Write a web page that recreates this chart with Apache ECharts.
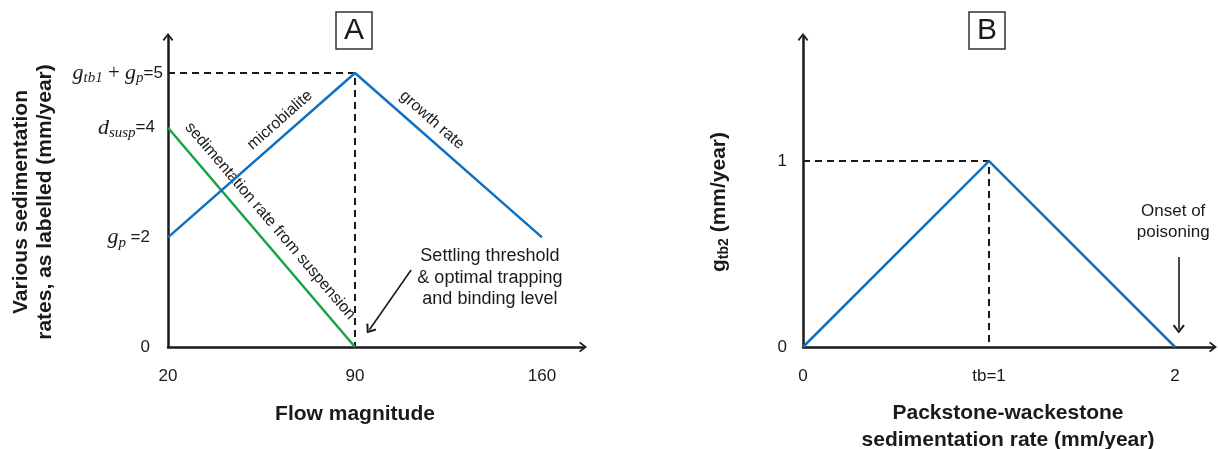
<!DOCTYPE html>
<html>
<head>
<meta charset="utf-8">
<script src="https://cdn.jsdelivr.net/npm/echarts@6/dist/echarts.min.js"></script>
<style>
  html, body { margin: 0; padding: 0; background: #fff; }
  #chart { width: 1218px; height: 449px; }
</style>
</head>
<body>
<div id="chart"></div>
<script>
// ---- Panel A: rates against flow magnitude ----
const flowTicks = [20, 90, 160];
const flowMicrobialite = [20, 90, 160];
const microbialiteRate = [2, 5, 2];
const flowSuspension = [20, 90];
const suspensionRate = [4, 0];
const peakFlow = 90;
const peakRate = 5;
const rateTicksA = [0, 2, 4, 5];
const rateTickLabelsA = [
  '{n0|0}',
  '{mi|g}{sub|p}{n2| =2}',
  '{mi|d}{sub|susp}{n4|=4}',
  '{mi|g}{sub|tb1}{op| + }{mi|g}{sub|p}{n5|=5}'
];

// ---- Panel B: g_tb2 against packstone-wackestone sedimentation rate ----
const packRate = [0, 1, 2];
const growthTb2 = [0, 1, 0];
const packTicks = [0, 1, 2];
const packTickLabels = ['0', 'tb=1', '2'];
const growthTicksB = [0, 1];
const growthTickLabelsB = ['0', '1'];

// ---- styling / layout ----
const BLUE = '#1170c2';
const GREEN = '#17a247';
const INK = '#1a1a1a';
const SANS = 'Liberation Sans';
const SERIF = 'Liberation Serif';
const CHEVRON = 'path://M5,0 L10,6.4 L8.7,7.5 L5,2.6 L1.3,7.5 L0,6.4 Z';

const zip = (xs, ys) => xs.map((x, i) => [x, ys[i]]);

// annotation placements, in data units of each panel
const lineNotes = [
  { text: 'microbialite', at: [61.9, 4.14], along: [[20, 2], [90, 5]] },
  { text: 'growth rate', at: [118.8, 4.14], along: [[90, 5], [160, 2]] },
  { text: 'sedimentation rate from suspension', at: [58.2, 2.30], along: [[20, 4], [90, 0]] }
];
const settlingNoteAt = [140.5, 1.26];
const settlingArrow = [[111.0, 1.405], [95.4, 0.316]];
const poisonNoteAt = [1.99, 0.672];
const poisonArrow = [[2.02, 0.484], [2.02, 0.097]];

const axisLineStyle = { show: true, symbol: ['none', CHEVRON], symbolSize: [11, 8], lineStyle: { color: INK, width: 2.5 } };
const tickLabelBase = { fontFamily: SANS, fontSize: 17, color: INK };
const nameBase = { fontFamily: SANS, fontSize: 21, fontWeight: 'bold', color: INK };
const dashed = { color: INK, width: 2, type: [7, 5] };
const plainText = { color: INK, opacity: 1, textBorderWidth: 0, textBorderColor: 'transparent', textShadowBlur: 0 };
const hiddenPoint = { color: 'rgba(0,0,0,0)', opacity: 1 };

const chart = echarts.init(document.getElementById('chart'), null, { renderer: 'canvas' });

function buildOption(rotations) {
  return {
    animation: false,
    backgroundColor: '#fff',
    title: [
      { text: 'A', left: 336, top: 12, borderColor: '#333', borderWidth: 1.5, padding: [4, 8, 3, 8],
        textStyle: { fontFamily: SANS, fontSize: 30, fontWeight: 'normal', color: INK, lineHeight: 30 } },
      { text: 'B', left: 969, top: 12, borderColor: '#333', borderWidth: 1.5, padding: [4, 8, 3, 8],
        textStyle: { fontFamily: SANS, fontSize: 30, fontWeight: 'normal', color: INK, lineHeight: 30 } }
    ],
    grid: [
      { left: 168, top: 37, width: 415, height: 310, containLabel: false, outerBoundsMode: 'none' },
      { left: 803, top: 37, width: 410, height: 310, containLabel: false, outerBoundsMode: 'none' }
    ],
    xAxis: [
      {
        gridIndex: 0, type: 'value', min: 20, max: 175.35,
        axisLine: axisLineStyle, axisTick: { show: false }, splitLine: { show: false },
        axisLabel: { ...tickLabelBase, customValues: flowTicks, margin: 21 },
        name: 'Flow magnitude', nameLocation: 'middle', nameGap: 57,
        nameTextStyle: { ...nameBase, padding: [0, 41, 0, 0] }
      },
      {
        gridIndex: 1, type: 'value', min: 0, max: 2.204,
        axisLine: axisLineStyle, axisTick: { show: false }, splitLine: { show: false },
        axisLabel: { ...tickLabelBase, customValues: packTicks, margin: 21,
          formatter: v => packTickLabels[packTicks.indexOf(v)] },
        name: 'Packstone-wackestone\nsedimentation rate (mm/year)', nameLocation: 'middle', nameGap: 53,
        nameTextStyle: { ...nameBase, lineHeight: 27 }
      }
    ],
    yAxis: [
      {
        gridIndex: 0, type: 'value', min: 0, max: 5.657,
        axisLine: axisLineStyle, axisTick: { show: false }, splitLine: { show: false },
        axisLabel: {
          customValues: rateTicksA, margin: 5,
          formatter: v => rateTickLabelsA[rateTicksA.indexOf(v)],
          rich: {
            mi: { fontFamily: SERIF, fontStyle: 'italic', fontSize: 22, color: INK, lineHeight: 26 },
            sub: { fontFamily: SERIF, fontStyle: 'italic', fontSize: 15, color: INK, lineHeight: 16, verticalAlign: 'bottom' },
            op: { fontFamily: SERIF, fontSize: 21, color: INK, lineHeight: 26 },
            n0: { ...tickLabelBase, padding: [0, 13, 0, 0] },
            n2: { ...tickLabelBase, padding: [0, 13, 0, 0] },
            n4: { ...tickLabelBase, padding: [0, 8, 0, 0] },
            n5: { ...tickLabelBase }
          }
        },
        name: 'Various sedimentation\nrates, as labelled (mm/year)', nameLocation: 'middle', nameRotate: 90, nameGap: 111,
        nameTextStyle: { ...nameBase, lineHeight: 24, padding: [0, 20, 0, 0] }
      },
      {
        gridIndex: 1, type: 'value', min: 0, max: 1.667,
        axisLine: axisLineStyle, axisTick: { show: false }, splitLine: { show: false },
        axisLabel: { ...tickLabelBase, customValues: growthTicksB, margin: 16,
          formatter: v => growthTickLabelsB[growthTicksB.indexOf(v)] },
        name: '{g|g}{s|tb2}{g| (mm/year)}', nameLocation: 'middle', nameRotate: 90, nameGap: 72,
        nameTextStyle: {
          ...nameBase, padding: [0, 20, 0, 0],
          rich: {
            g: { ...nameBase, lineHeight: 24 },
            s: { ...nameBase, fontSize: 14, lineHeight: 16, verticalAlign: 'bottom' }
          }
        }
      }
    ],
    series: [
      // dashed guides to the peak in panel A
      {
        type: 'line', xAxisIndex: 0, yAxisIndex: 0, symbol: 'none', silent: true,
        data: [[flowTicks[0], peakRate], [peakFlow, peakRate], [peakFlow, 0]],
        lineStyle: dashed,
        markLine: {
          silent: true, symbol: ['none', CHEVRON], symbolSize: [12, 9],
          lineStyle: { color: INK, width: 1.6, type: 'solid' }, label: { show: false },
          data: [[{ coord: settlingArrow[0] }, { coord: settlingArrow[1] }]]
        }
      },
      {
        type: 'line', xAxisIndex: 0, yAxisIndex: 0, symbol: 'none', silent: true,
        data: zip(flowSuspension, suspensionRate), lineStyle: { color: GREEN, width: 2.5 }
      },
      {
        type: 'line', xAxisIndex: 0, yAxisIndex: 0, symbol: 'none', silent: true,
        data: zip(flowMicrobialite, microbialiteRate), lineStyle: { color: BLUE, width: 2.5 }
      },
      // text set along the lines and the settling note
      {
        type: 'scatter', xAxisIndex: 0, yAxisIndex: 0, symbolSize: 0, silent: true,
        itemStyle: hiddenPoint,
        data: lineNotes.map((n, i) => ({
          value: n.at,
          label: { show: true, position: 'inside', formatter: n.text, rotate: rotations[i],
            fontFamily: SANS, fontSize: 16, ...plainText }
        })).concat([{
          value: settlingNoteAt,
          label: { show: true, position: 'inside', formatter: 'Settling threshold\n& optimal trapping\nand binding level',
            fontFamily: SANS, fontSize: 18, lineHeight: 21.5, align: 'center', ...plainText }
        }])
      },
      // panel B
      {
        type: 'line', xAxisIndex: 1, yAxisIndex: 1, symbol: 'none', silent: true,
        data: [[0, 1], [1, 1], [1, 0]], lineStyle: dashed,
        markLine: {
          silent: true, symbol: ['none', CHEVRON], symbolSize: [12, 9],
          lineStyle: { color: INK, width: 1.6, type: 'solid' }, label: { show: false },
          data: [[{ coord: poisonArrow[0] }, { coord: poisonArrow[1] }]]
        }
      },
      {
        type: 'line', xAxisIndex: 1, yAxisIndex: 1, symbol: 'none', silent: true,
        data: zip(packRate, growthTb2), lineStyle: { color: BLUE, width: 2.5 }
      },
      {
        type: 'scatter', xAxisIndex: 1, yAxisIndex: 1, symbolSize: 0, silent: true,
        itemStyle: hiddenPoint,
        data: [{
          value: poisonNoteAt,
          label: { show: true, position: 'inside', formatter: 'Onset of\npoisoning',
            fontFamily: SANS, fontSize: 17, lineHeight: 21, align: 'center', ...plainText }
        }]
      }
    ]
  };
}

chart.setOption(buildOption(lineNotes.map(() => 0)));
// orient each line label along its segment using the axis scales
const rotations = lineNotes.map(n => {
  const p1 = chart.convertToPixel({ gridIndex: 0 }, n.along[0]);
  const p2 = chart.convertToPixel({ gridIndex: 0 }, n.along[1]);
  return Math.atan2(p1[1] - p2[1], p2[0] - p1[0]) * 180 / Math.PI;
});
chart.setOption(buildOption(rotations));
</script>
</body>
</html>
